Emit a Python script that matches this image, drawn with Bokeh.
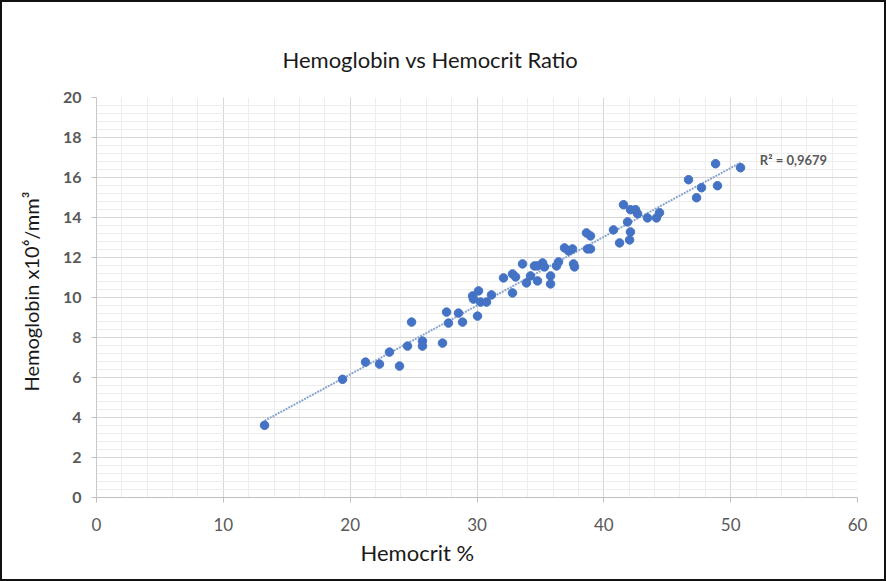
import numpy as np
from bokeh.plotting import figure
from bokeh.models import FixedTicker, Title, Label, ColumnDataSource
from bokeh.embed import file_html
from bokeh.resources import INLINE

# ---- data ----
hematocrit = [13.25, 19.40, 21.21, 22.31, 23.10, 23.89, 24.52, 24.84, 25.70, 25.70,
              27.28, 27.60, 27.75, 28.54, 28.86, 29.65, 30.12, 29.72, 30.04, 30.28,
              30.75, 31.14, 32.09, 32.80, 33.04, 32.80, 33.59, 33.90, 34.22, 34.53,
              34.77, 34.77, 35.17, 35.32, 35.80, 35.80, 36.27, 36.43, 36.90, 37.22,
              37.53, 37.61, 37.69, 38.63, 38.95, 38.71, 38.95, 40.76, 41.24, 41.55,
              41.87, 42.10, 42.03, 42.10, 42.50, 42.66, 43.44, 44.15, 44.39, 46.68,
              47.70, 47.31, 48.81, 48.96, 50.78]
hemoglobin = [3.61, 5.91, 6.77, 6.67, 7.27, 6.57, 7.57, 8.77, 7.82, 7.57,
              7.72, 9.27, 8.72, 9.22, 8.77, 10.08, 10.33, 9.92, 9.07, 9.77,
              9.77, 10.13, 10.98, 11.18, 11.03, 10.23, 11.68, 10.73, 11.08, 11.58,
              10.83, 11.58, 11.73, 11.53, 11.08, 10.68, 11.58, 11.78, 12.48, 12.33,
              12.43, 11.68, 11.53, 13.23, 13.08, 12.43, 12.43, 13.38, 12.73, 14.64,
              13.78, 13.28, 12.88, 14.39, 14.39, 14.19, 13.98, 13.98, 14.24, 15.89,
              15.49, 14.99, 16.69, 15.59, 16.49]
x_ticks = [0, 10, 20, 30, 40, 50, 60]
y_ticks = [0, 2, 4, 6, 8, 10, 12, 14, 16, 18, 20]
r2_text = "R² = 0,9679"

title_text = "Hemoglobin vs Hemocrit Ratio"
x_label = "Hemocrit %"
y_label = "Hemoglobin x10⁶/mm³"

FONT = "Lato"
GRAY = "#595959"

p = figure(width=886, height=581, output_backend="svg", toolbar_location=None,
           x_range=(0, 60), y_range=(0, 20),
           min_border_left=94, min_border_right=31, min_border_top=95, min_border_bottom=86)
p.styles = {"border": "2px solid #111111"}
p.background_fill_color = "white"
p.border_fill_color = "white"
p.outline_line_color = None

# title
p.title.text = title_text
p.title.align = "left"
p.title.offset = 186
p.title.standoff = 50
p.title.text_font = FONT
p.title.text_font_size = "22px"
p.title.text_font_style = "normal"
p.title.text_color = "#1a1a1a"

# axes
p.xaxis.ticker = FixedTicker(ticks=x_ticks, minor_ticks=list(np.arange(0, 61, 2)))
p.yaxis.ticker = FixedTicker(ticks=y_ticks, minor_ticks=list(np.round(np.arange(0, 20.01, 0.4), 2)))
for ax in (p.xaxis[0], p.yaxis[0]):
    ax.minor_tick_line_color = None
    ax.major_tick_line_color = "#bfbfbf"
    ax.major_tick_out = 5
    ax.major_tick_in = 0
    ax.major_label_text_font = FONT
    ax.major_label_text_color = GRAY
    ax.major_label_text_font_size = "16px"
p.xaxis.major_label_text_font_size = "17px"
p.xaxis.axis_line_color = "#bfbfbf"
p.yaxis.axis_line_color = "#c8c8c8"
p.yaxis.major_label_text_font_style = "bold"
p.xaxis.major_label_standoff = 15
p.yaxis.major_label_standoff = 10

# grids
p.xgrid.grid_line_color = "#d6d6d6"
p.ygrid.grid_line_color = "#d6d6d6"
p.xgrid.minor_grid_line_color = "#ededed"
p.ygrid.minor_grid_line_color = "#ededed"

# axis titles
xt = Title(text=x_label, align="left", offset=264, standoff=7, text_font=FONT,
           text_font_size="22px", text_font_style="normal", text_color="#1a1a1a")
p.add_layout(xt, "below")
yt = Title(text=y_label, align="left", offset=106, standoff=30, vertical_align="top",
           text_font=FONT, text_font_size="20px", text_font_style="normal", text_color="#1a1a1a")
p.add_layout(yt, "left")

# trend line (least squares)
slope, intercept = np.polyfit(hematocrit, hemoglobin, 1)
xs = [min(hematocrit), max(hematocrit)]
ys = [slope * v + intercept for v in xs]
p.line(xs, ys, line_color="#8aa6cf", line_width=2, line_dash="2 1")

src = ColumnDataSource(dict(x=hematocrit, y=hemoglobin))
p.scatter("x", "y", source=src, size=8.5, fill_color="#4472c4", line_color="#4472c4")

p.add_layout(Label(x=52.3, y=16.9, text=r2_text, text_font=FONT, text_font_size="13px",
                   text_font_style="bold", text_color=GRAY, text_baseline="middle"))

open("out.html", "w").write(file_html(p, INLINE))
